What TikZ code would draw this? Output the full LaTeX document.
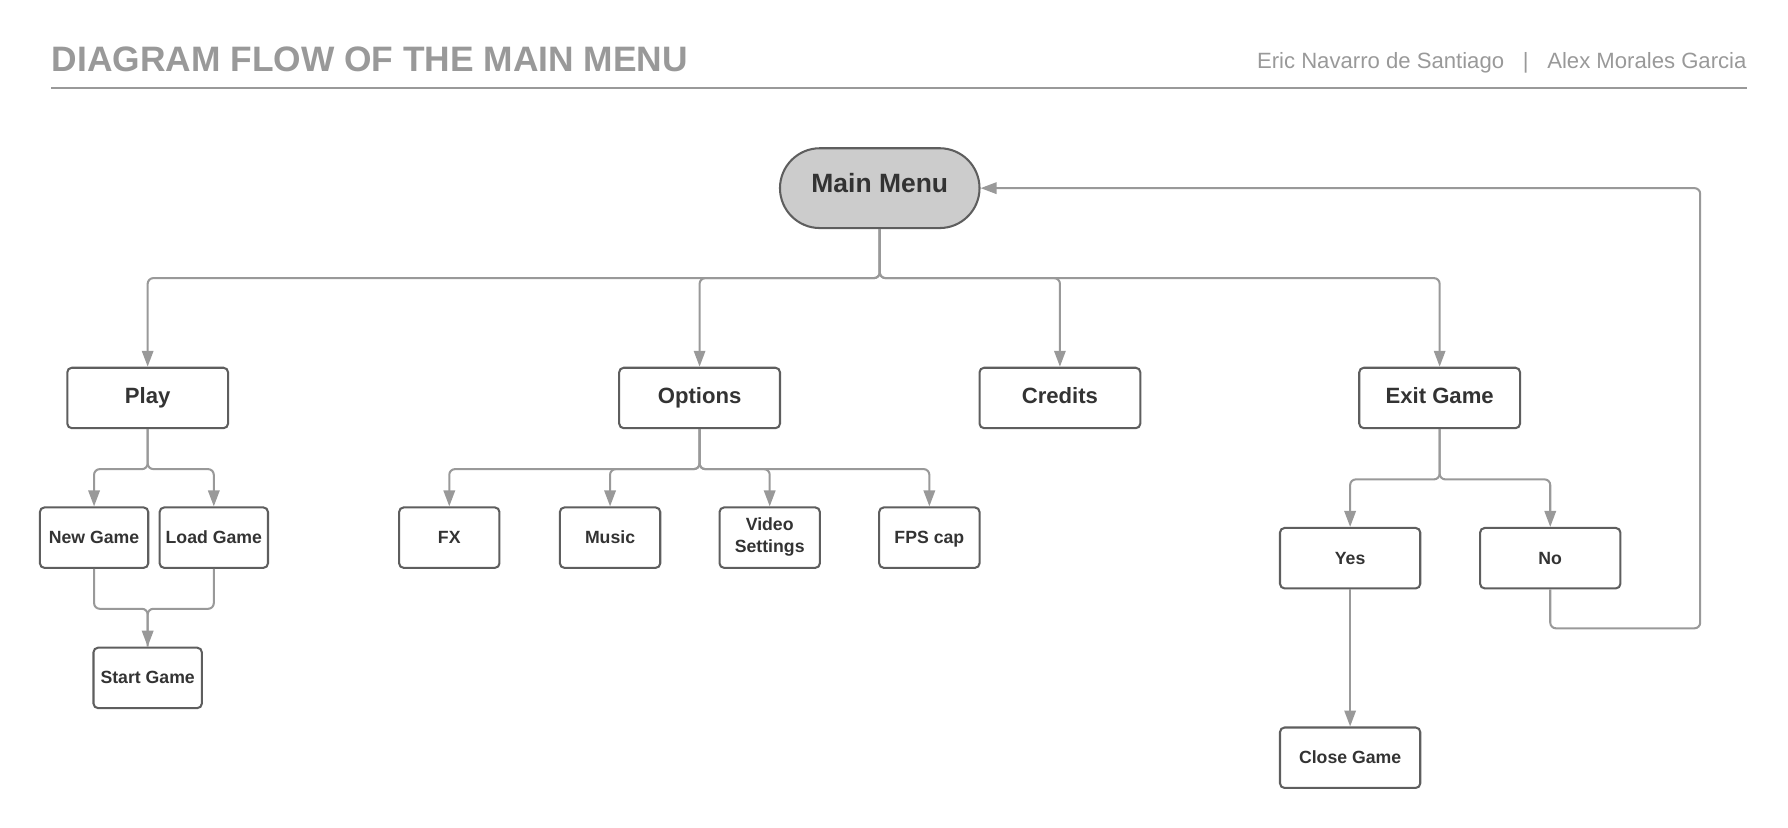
\documentclass[tikz,border=0pt]{standalone}
\usepackage{fontspec}
\setmainfont{Liberation Sans}
\usepackage{xcolor}
\usetikzlibrary{positioning, arrows.meta}

\definecolor{linegray}{HTML}{999999}
\definecolor{boxgray}{HTML}{5E5E5E}
\definecolor{textgray}{HTML}{333333}
\definecolor{fillgray}{HTML}{CCCCCC}

\begin{document}
\begin{tikzpicture}[x=0.5pt, y=-0.5pt,
        box/.style={draw=boxgray, line width=0.9pt, rounded corners=2pt, text=textgray, inner sep=0pt, align=center, text height=0.72em},
        bigbox/.style={box, minimum width=70.5pt, minimum height=26.5pt, text depth=0.26em, font=\fontsize{9.7}{11.6}\selectfont\bfseries},
        smallbox/.style={box, minimum height=26.5pt, text depth=0.2em, font=\fontsize{7.75}{9.5}\selectfont\bfseries},
        conn/.style={draw=linegray, line width=0.9pt, rounded corners=2.5pt, -{Triangle[length=7pt, width=5pt]}},
        plain/.style={draw=linegray, line width=0.9pt, rounded corners=2.5pt}]
            \useasboundingbox (0,0) rectangle (1568,726);

            % header
            \node[anchor=base west, inner sep=0pt, text=linegray, font=\fontsize{15.5}{18}\selectfont\bfseries] (title) at (45,62.5) {DIAGRAM FLOW OF THE MAIN MENU};
            \node[anchor=base east, inner sep=0pt, text=linegray, font=\fontsize{9.7}{11.6}\selectfont] (authors) at (1532,60.5) {Eric Navarro de Santiago\hspace{8.2pt}|\hspace{8.2pt}Alex Morales Garcia};
            \coordinate (ruleL) at (45,77);
            \coordinate (ruleR) at (1532,77);
            \draw[draw=linegray, line width=0.9pt] (ruleL) -- (ruleR);

            % nodes
            \node[draw=boxgray, fill=fillgray, line width=0.9pt, rounded corners=17.5pt, minimum width=87.5pt, minimum height=35pt, inner sep=0pt, text height=0.72em, text depth=0.32em, text=textgray, font=\fontsize{11.6}{14}\selectfont\bfseries] (main) at (771.5,165) {Main Menu};

            \node[bigbox] (play) at (129.5,349) {Play};
            \node[bigbox] (opt) at (613.5,349) {Options};
            \node[bigbox] (cred) at (929.5,349) {Credits};
            \node[bigbox] (exit) at (1262.5,349) {Exit Game};

            \node[smallbox, minimum width=47.5pt] (new) at (82.5,471.5) {New Game};
            \node[smallbox, minimum width=47.5pt] (load) at (187.5,471.5) {Load Game};
            \node[smallbox, minimum width=47.5pt] (start) at (129.5,594.5) {Start Game};

            \node[smallbox, minimum width=44pt] (fx) at (394,471.5) {FX};
            \node[smallbox, minimum width=44pt] (music) at (535,471.5) {Music};
            \node[smallbox, minimum width=44pt, text height=14.5pt, text depth=1.5pt] (video) at (675,471.5) {Video\\Settings};
            \node[smallbox, minimum width=44pt] (fps) at (815,471.5) {FPS cap};

            \node[smallbox, minimum width=61.5pt] (yes) at (1184,489.5) {Yes};
            \node[smallbox, minimum width=61.5pt] (no) at (1359.5,489.5) {No};
            \node[smallbox, minimum width=61.5pt] (close) at (1184,664.5) {Close Game};

            \coordinate (back) at (1491,551);

            % connectors
            \draw[conn] (main.south) -- ++(0,43) -| (play.north);
            \draw[conn] (main.south) -- ++(0,43) -| (opt.north);
            \draw[conn] (main.south) -- ++(0,43) -| (cred.north);
            \draw[conn] (main.south) -- ++(0,43) -| (exit.north);

            \draw[conn] (play.south) -- ++(0,35) -| (new.north);
            \draw[conn] (play.south) -- ++(0,35) -| (load.north);
            \draw[plain] (load.south) -- ++(0,35) -| (start.north);
            \draw[conn] (new.south) -- ++(0,35) -| (start.north);

            \draw[conn] (opt.south) -- ++(0,35) -| (fx.north);
            \draw[conn] (opt.south) -- ++(0,35) -| (music.north);
            \draw[conn] (opt.south) -- ++(0,35) -| (video.north);
            \draw[conn] (opt.south) -- ++(0,35) -| (fps.north);

            \draw[conn] (exit.south) -- ++(0,44) -| (yes.north);
            \draw[conn] (exit.south) -- ++(0,44) -| (no.north);
            \draw[conn] (yes) -- (close);
            \draw[conn] (no.south) |- (back) |- (main.east);
        \end{tikzpicture}
\end{document}
